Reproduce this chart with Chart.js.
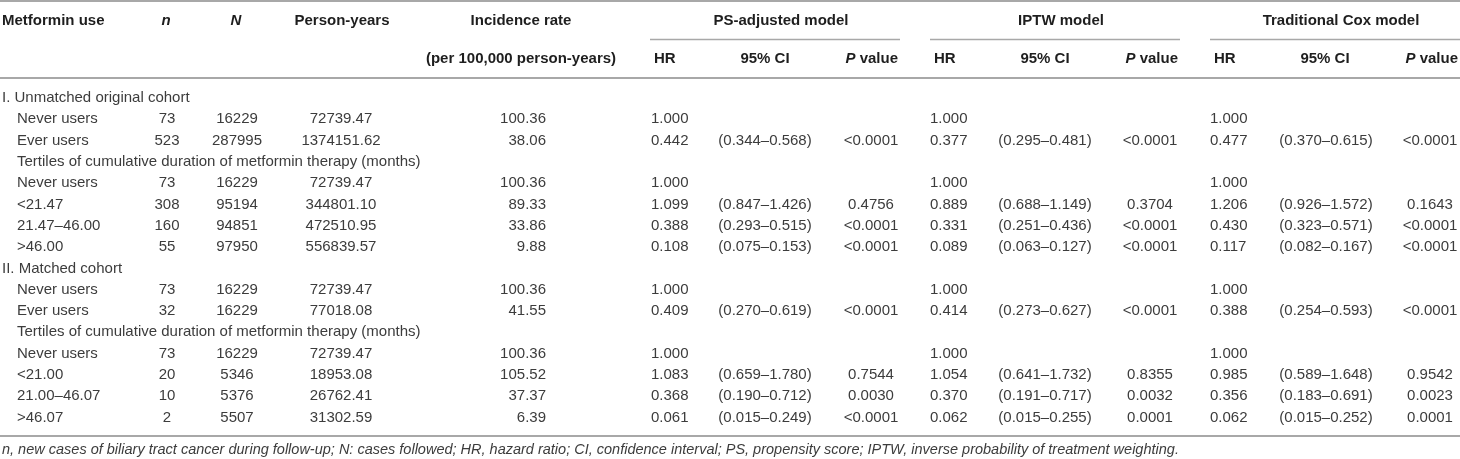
<!DOCTYPE html>
<html>
<head>
<meta charset="utf-8">
<script src="https://cdn.jsdelivr.net/npm/chart.js@4.4.1/dist/chart.umd.min.js"></script>
<style>
  html, body { margin: 0; padding: 0; background: #fff; }
  #wrap { width: 1460px; height: 459px; position: relative; }
</style>
</head>
<body>
<div id="wrap"><canvas id="myChart"></canvas></div>
<script>
// row labels (first column)
rowLabels = ["I. Unmatched original cohort", "Never users", "Ever users",
  "Tertiles of cumulative duration of metformin therapy (months)",
  "Never users", "<21.47", "21.47–46.00", ">46.00",
  "II. Matched cohort", "Never users", "Ever users",
  "Tertiles of cumulative duration of metformin therapy (months)",
  "Never users", "<21.00", "21.00–46.07", ">46.07"];
sectionRows = [0, 8];

nCases = ["", "73", "523", "", "73", "308", "160", "55", "", "73", "32", "", "73", "20", "10", "2"];
nFollowed = ["", "16229", "287995", "", "16229", "95194", "94851", "97950", "", "16229", "16229", "", "16229", "5346", "5376", "5507"];
personYears = ["", "72739.47", "1374151.62", "", "72739.47", "344801.10", "472510.95", "556839.57", "", "72739.47", "77018.08", "", "72739.47", "18953.08", "26762.41", "31302.59"];
incidence = ["", "100.36", "38.06", "", "100.36", "89.33", "33.86", "9.88", "", "100.36", "41.55", "", "100.36", "105.52", "37.37", "6.39"];

psHR = ["", "1.000", "0.442", "", "1.000", "1.099", "0.388", "0.108", "", "1.000", "0.409", "", "1.000", "1.083", "0.368", "0.061"];
psCI = ["", "", "(0.344–0.568)", "", "", "(0.847–1.426)", "(0.293–0.515)", "(0.075–0.153)", "", "", "(0.270–0.619)", "", "", "(0.659–1.780)", "(0.190–0.712)", "(0.015–0.249)"];
psP = ["", "", "<0.0001", "", "", "0.4756", "<0.0001", "<0.0001", "", "", "<0.0001", "", "", "0.7544", "0.0030", "<0.0001"];

iptwHR = ["", "1.000", "0.377", "", "1.000", "0.889", "0.331", "0.089", "", "1.000", "0.414", "", "1.000", "1.054", "0.370", "0.062"];
iptwCI = ["", "", "(0.295–0.481)", "", "", "(0.688–1.149)", "(0.251–0.436)", "(0.063–0.127)", "", "", "(0.273–0.627)", "", "", "(0.641–1.732)", "(0.191–0.717)", "(0.015–0.255)"];
iptwP = ["", "", "<0.0001", "", "", "0.3704", "<0.0001", "<0.0001", "", "", "<0.0001", "", "", "0.8355", "0.0032", "0.0001"];

coxHR = ["", "1.000", "0.477", "", "1.000", "1.206", "0.430", "0.117", "", "1.000", "0.388", "", "1.000", "0.985", "0.356", "0.062"];
coxCI = ["", "", "(0.370–0.615)", "", "", "(0.926–1.572)", "(0.323–0.571)", "(0.082–0.167)", "", "", "(0.254–0.593)", "", "", "(0.589–1.648)", "(0.183–0.691)", "(0.015–0.252)"];
coxP = ["", "", "<0.0001", "", "", "0.1643", "<0.0001", "<0.0001", "", "", "<0.0001", "", "", "0.9542", "0.0023", "0.0001"];

groupHeaders = ["PS-adjusted model", "IPTW model", "Traditional Cox model"];
footnote = "n, new cases of biliary tract cancer during follow-up; N: cases followed; HR, hazard ratio; CI, confidence interval; PS, propensity score; IPTW, inverse probability of treatment weighting.";

// layout
var FONT = '"Liberation Sans", Arial, sans-serif';
var TEXT = '#3c3c3c';
var HEAD = '#1e1e1e';
var RULE = '#a8a8a8';
var rowTop = 98, rowStep = 21.3;

function rowY(i) { return rowTop + i * rowStep; }

// column placement (x in px, alignment)
columns = [
  { values: nCases, x: 167, align: 'center' },
  { values: nFollowed, x: 237, align: 'center' },
  { values: personYears, x: 341, align: 'center' },
  { values: incidence, x: 546, align: 'right' },
  { values: psHR, x: 651, align: 'left' },
  { values: psCI, x: 765, align: 'center' },
  { values: psP, x: 871, align: 'center' },
  { values: iptwHR, x: 930, align: 'left' },
  { values: iptwCI, x: 1045, align: 'center' },
  { values: iptwP, x: 1150, align: 'center' },
  { values: coxHR, x: 1210, align: 'left' },
  { values: coxCI, x: 1326, align: 'center' },
  { values: coxP, x: 1430, align: 'center' }
];

// first column as its own dataset
datasets = [{
  cells: rowLabels,
  align: 'left',
  data: rowLabels.map((t, i) => ({ x: sectionRows.includes(i) ? 2 : 17, y: rowY(i) }))
}];
columns.forEach(c => {
  datasets.push({
    cells: c.values,
    align: c.align,
    data: c.values.map((t, i) => ({ x: c.x, y: rowY(i) }))
  });
});
datasets.forEach(d => { d.pointRadius = 0; d.showLine = false; });

groupSpans = [[650, 900], [930, 1180], [1210, 1460]];

function drawRich(ctx, parts, x, y, align) {
  // parts: [[text, font], ...]
  var w = 0;
  parts.forEach(p => { ctx.font = p[1]; w += ctx.measureText(p[0]).width; });
  var sx = align === 'center' ? x - w / 2 : align === 'right' ? x - w : x;
  ctx.textAlign = 'left';
  parts.forEach(p => { ctx.font = p[1]; ctx.fillText(p[0], sx, y); sx += ctx.measureText(p[0]).width; });
}

tablePlugin = {
  id: 'tablePlugin',
  afterDatasetsDraw(chart) {
    var ctx = chart.ctx;
    var xs = chart.scales.x, ys = chart.scales.y;
    var px = v => xs.getPixelForValue(v);
    var py = v => ys.getPixelForValue(v);
    ctx.save();
    ctx.textBaseline = 'middle';

    // rules
    ctx.strokeStyle = RULE;
    function hline(x0, x1, y, w) {
      ctx.lineWidth = w;
      ctx.beginPath(); ctx.moveTo(px(x0), py(y)); ctx.lineTo(px(x1), py(y)); ctx.stroke();
    }
    hline(0, 1460, 1, 2);
    groupSpans.forEach(s => hline(s[0], s[1], 39.5, 1.3));
    hline(0, 1460, 78, 2);
    hline(0, 1460, 436, 2);

    // headers
    var B = 'bold 15px ' + FONT, BI = 'italic bold 15px ' + FONT;
    ctx.fillStyle = HEAD;
    var h1 = py(21), h2 = py(59);
    drawRich(ctx, [['Metformin use', B]], px(2), h1, 'left');
    drawRich(ctx, [['n', BI]], px(166), h1, 'center');
    drawRich(ctx, [['N', BI]], px(236), h1, 'center');
    drawRich(ctx, [['Person-years', B]], px(342), h1, 'center');
    drawRich(ctx, [['Incidence rate', B]], px(521), h1, 'center');
    drawRich(ctx, [['(per 100,000 person-years)', B]], px(521), h2, 'center');
    groupHeaders.forEach((g, k) => {
      var s = groupSpans[k];
      drawRich(ctx, [[g, B]], px((s[0] + s[1]) / 2 + 6), h1, 'center');
      drawRich(ctx, [['HR', B]], px(s[0] + 4), h2, 'left');
      drawRich(ctx, [['95% CI', B]], px(s[0] + 115), h2, 'center');
      drawRich(ctx, [['P', BI], [' value', B]], px(s[1] - 2), h2, 'right');
    });

    // body cells from the datasets
    ctx.fillStyle = TEXT;
    var R = '15px ' + FONT;
    chart.data.datasets.forEach((ds, di) => {
      var meta = chart.getDatasetMeta(di);
      meta.data.forEach((pt, i) => {
        var t = ds.cells[i];
        if (!t) return;
        drawRich(ctx, [[t, R]], pt.x, pt.y, ds.align);
      });
    });

    // footnote
    drawRich(ctx, [[footnote, 'italic 14.5px ' + FONT]], px(2), py(450), 'left');
    ctx.restore();
  }
};

new Chart(document.getElementById('myChart'), {
  type: 'scatter',
  data: { datasets: datasets },
  options: {
    responsive: true,
    maintainAspectRatio: false,
    animation: false,
    events: [],
    layout: { padding: 0 },
    scales: {
      x: { type: 'linear', min: 0, max: 1460, display: false },
      y: { type: 'linear', min: 0, max: 459, reverse: true, display: false }
    },
    plugins: { legend: { display: false }, tooltip: { enabled: false } }
  },
  plugins: [tablePlugin]
});
</script>
</body>
</html>
